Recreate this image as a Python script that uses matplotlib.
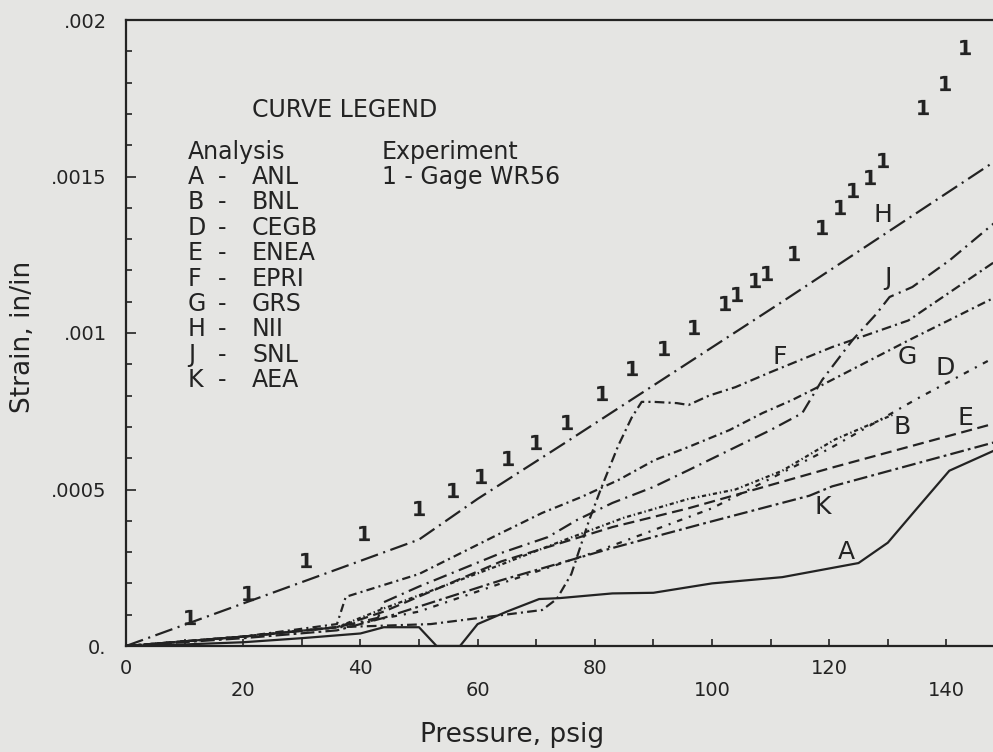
import matplotlib
matplotlib.use('Agg')
import matplotlib.pyplot as plt
from matplotlib.ticker import FixedLocator, FixedFormatter

# ---------------- data ----------------
exp_p = [10.9, 20.9, 30.7, 40.6, 50.0, 55.8, 60.6, 65.2, 70.0, 75.2, 81.2, 86.3, 91.8, 96.9,
         102.2, 104.3, 107.4, 109.4, 114.0, 118.8, 121.9, 124.0, 126.9, 129.1, 136.0, 139.7, 143.2]
exp_s = [0.000093, 0.000169, 0.000275, 0.000361, 0.000441, 0.000498, 0.000543, 0.000601,
         0.000652, 0.000716, 0.000808, 0.000888, 0.000952, 0.001019, 0.001096, 0.001125,
         0.001169, 0.001192, 0.001256, 0.001339, 0.001403, 0.001457, 0.001498, 0.001553,
         0.001722, 0.001799, 0.001914]

A_p = [0, 10, 20, 30, 40, 44, 50, 53, 57, 60, 65, 70.5, 74, 83, 90, 100, 112, 125, 130, 135, 140.5, 150]
A_s = [0, 0.000005, 0.000012, 0.000025, 0.00004, 0.00006, 0.00006, 0, 0, 0.00007, 0.00011,
       0.00015, 0.000153, 0.000168, 0.00017, 0.0002, 0.00022, 0.000265, 0.00033, 0.00044,
       0.00056, 0.00064]

H_p = [0, 50, 60, 75, 112, 150]
H_s = [0, 0.00034, 0.00047, 0.00065, 0.0011, 0.00157]

F_p = [0, 20, 36, 52, 71, 73.5, 76, 79, 81, 84, 86.3, 88, 90, 94, 96, 99.5, 104, 110, 120.5, 133.5, 150]
F_s = [0, 0.00003, 0.00006, 0.00007, 0.000115, 0.00015, 0.00023, 0.0004, 0.0005, 0.00064,
       0.00073, 0.00078, 0.00078, 0.000776, 0.00077, 0.0008, 0.000827, 0.000875, 0.000955,
       0.00104, 0.00125]

G_p = [0, 20, 36, 37.5, 50, 64, 71, 77.7, 84, 90.2, 96, 103, 108.6, 113.7, 118.8, 133.7, 150]
G_s = [0, 0.00003, 0.00007, 0.000157, 0.00023, 0.000361, 0.000425, 0.000476, 0.00053, 0.000594,
       0.000636, 0.00069, 0.000744, 0.000786, 0.000834, 0.000978, 0.00113]

J_p = [0, 20, 36, 43, 44, 50, 64, 72, 77, 83, 90, 96, 103, 110, 115.4, 118.8, 124, 128, 130.3,
       134.2, 140.6, 150]
J_s = [0, 0.00003, 0.00006, 0.00009, 0.00014, 0.00019, 0.000297, 0.000348, 0.000403, 0.000457,
       0.000508, 0.000562, 0.000626, 0.00069, 0.000744, 0.00085, 0.000978, 0.00106, 0.001115,
       0.001147, 0.001233, 0.00138]

B_p = [0, 20, 36, 44, 64, 75, 85, 96, 104, 112, 121, 131]
B_s = [0, 0.00003, 0.00006, 0.00012, 0.00026, 0.00034, 0.00041, 0.00047, 0.0005, 0.00056,
       0.00066, 0.00074]

D_p = [0, 20, 36, 50, 64, 80, 100, 120, 135, 150]
D_s = [0, 0.00003, 0.00006, 0.00011, 0.0002, 0.0003, 0.00044, 0.00063, 0.00079, 0.00094]

E_p = [0, 20, 36, 44, 64, 83, 96, 120.5, 150]
E_s = [0, 0.00003, 0.00006, 0.00011, 0.00027, 0.00038, 0.00044, 0.00057, 0.00072]

K_p = [0, 20, 36, 44, 64, 82.4, 98.3, 116.6, 120.5, 150]
K_s = [0, 0.000025, 0.00005, 0.00009, 0.00021, 0.00031, 0.00039, 0.00048, 0.00051, 0.00066]

curve_codes = ['A', 'B', 'D', 'E', 'F', 'G', 'H', 'J', 'K']
curve_names = ['ANL', 'BNL', 'CEGB', 'ENEA', 'EPRI', 'GRS', 'NII', 'SNL', 'AEA']
label_p = {'H': 129.2, 'J': 130.0, 'F': 111.6, 'G': 133.4, 'D': 139.8, 'B': 132.4,
           'E': 143.2, 'K': 118.9, 'A': 123.0}
label_s = {'H': 0.001377, 'J': 0.001176, 'F': 0.000923, 'G': 0.000923, 'D': 0.000888,
           'B': 0.000700, 'E': 0.000728, 'K': 0.000444, 'A': 0.000300}

xt_upper = [0, 40, 80, 120]
xt_lower = [20, 60, 100, 140]
xt_minor = [10, 20, 30, 50, 60, 70, 90, 100, 110, 130, 140]
yt_major = [0, 0.0005, 0.001, 0.0015, 0.002]
yt_labels = ['0.', '.0005', '.001', '.0015', '.002']
yt_minor = [i * 0.0001 for i in range(21)]

# ---------------- style ----------------
plt.rcParams['font.family'] = ['DejaVu Sans']
plt.rcParams['lines.scale_dashes'] = False
BG = '#e5e5e3'
INK = '#232323'

W, HH = 993, 752
fig = plt.figure(figsize=(W / 100, HH / 100), dpi=100, facecolor=BG)
ax = fig.add_axes([126 / W, (HH - 646) / HH, 150 * 5.86 / W, 626 / HH])
ax.set_facecolor(BG)
ax.set_xlim(0, 150)
ax.set_ylim(0, 0.002)

for sp in ax.spines.values():
    sp.set_color(INK)
    sp.set_linewidth(1.6)

styles = {
    'A': '-',
    'H': (0, (13, 4, 1.5, 4)),
    'J': (0, (10, 4, 1.5, 4)),
    'F': (0, (7, 3, 1.5, 3)),
    'G': (0, (6, 3, 1.5, 3)),
    'B': (0, (3, 2, 1, 2)),
    'D': (0, (1.5, 5, 4, 5)),
    'E': (0, (8, 4)),
    'K': (0, (10, 3, 2, 3)),
}
series = {'A': (A_p, A_s), 'B': (B_p, B_s), 'D': (D_p, D_s), 'E': (E_p, E_s),
          'F': (F_p, F_s), 'G': (G_p, G_s), 'H': (H_p, H_s), 'J': (J_p, J_s),
          'K': (K_p, K_s)}
for code in curve_codes:
    p, s = series[code]
    ax.plot(p, s, color=INK, lw=1.6, linestyle=styles[code])
    ax.text(label_p[code], label_s[code], code, fontsize=18, color=INK,
            ha='center', va='center')

ax.scatter(exp_p, exp_s, marker=r'$\mathbf{1}$', s=120, color=INK, linewidths=0, zorder=5)

# ticks
ax.xaxis.set_major_locator(FixedLocator(xt_upper))
ax.xaxis.set_major_formatter(FixedFormatter([str(v) for v in xt_upper]))
ax.xaxis.set_minor_locator(FixedLocator(xt_minor))
ax.xaxis.set_minor_formatter(FixedFormatter([str(v) if v in xt_lower else '' for v in xt_minor]))
ax.tick_params(axis='x', which='major', direction='in', length=5, width=1.2, pad=9,
               labelsize=14, colors=INK)
ax.tick_params(axis='x', which='minor', direction='in', length=5, width=1.2, pad=25,
               labelsize=14, colors=INK)
ax.yaxis.set_major_locator(FixedLocator(yt_major))
ax.yaxis.set_major_formatter(FixedFormatter(yt_labels))
ax.yaxis.set_minor_locator(FixedLocator(yt_minor))
ax.tick_params(axis='y', which='major', direction='in', length=7, width=1.2, pad=14,
               labelsize=14, colors=INK)
ax.tick_params(axis='y', which='minor', direction='in', length=4, width=1.2, colors=INK)

ax.set_xlabel('Pressure, psig', fontsize=19, color=INK)
ax.xaxis.set_label_coords((512 - 126) / 879, (646 - 735) / 626)
ax.xaxis.label.set_verticalalignment('center')
ax.set_ylabel('Strain, in/in', fontsize=19, color=INK)
ax.yaxis.set_label_coords((23 - 126) / 879, (646 - 337) / 626)
ax.yaxis.label.set_verticalalignment('center')

# legend block
def fx(x):
    return x / W

def fy(y):
    return 1 - y / HH

LFS = 17
fig.text(fx(345), fy(110), 'CURVE LEGEND', fontsize=LFS, color=INK, ha='center', va='center')
fig.text(fx(188), fy(152), 'Analysis', fontsize=LFS, color=INK, ha='left', va='center')
fig.text(fx(382), fy(152), 'Experiment', fontsize=LFS, color=INK, ha='left', va='center')
fig.text(fx(382), fy(177), '1 - Gage WR56', fontsize=LFS, color=INK, ha='left', va='center')
for i, (c, n) in enumerate(zip(curve_codes, curve_names)):
    y = 177 + 25.4 * i
    fig.text(fx(188), fy(y), c, fontsize=LFS, color=INK, ha='left', va='center')
    fig.text(fx(222), fy(y), '-', fontsize=LFS, color=INK, ha='center', va='center')
    fig.text(fx(252), fy(y), n, fontsize=LFS, color=INK, ha='left', va='center')

fig.savefig('out.png', dpi=100, facecolor=BG)
